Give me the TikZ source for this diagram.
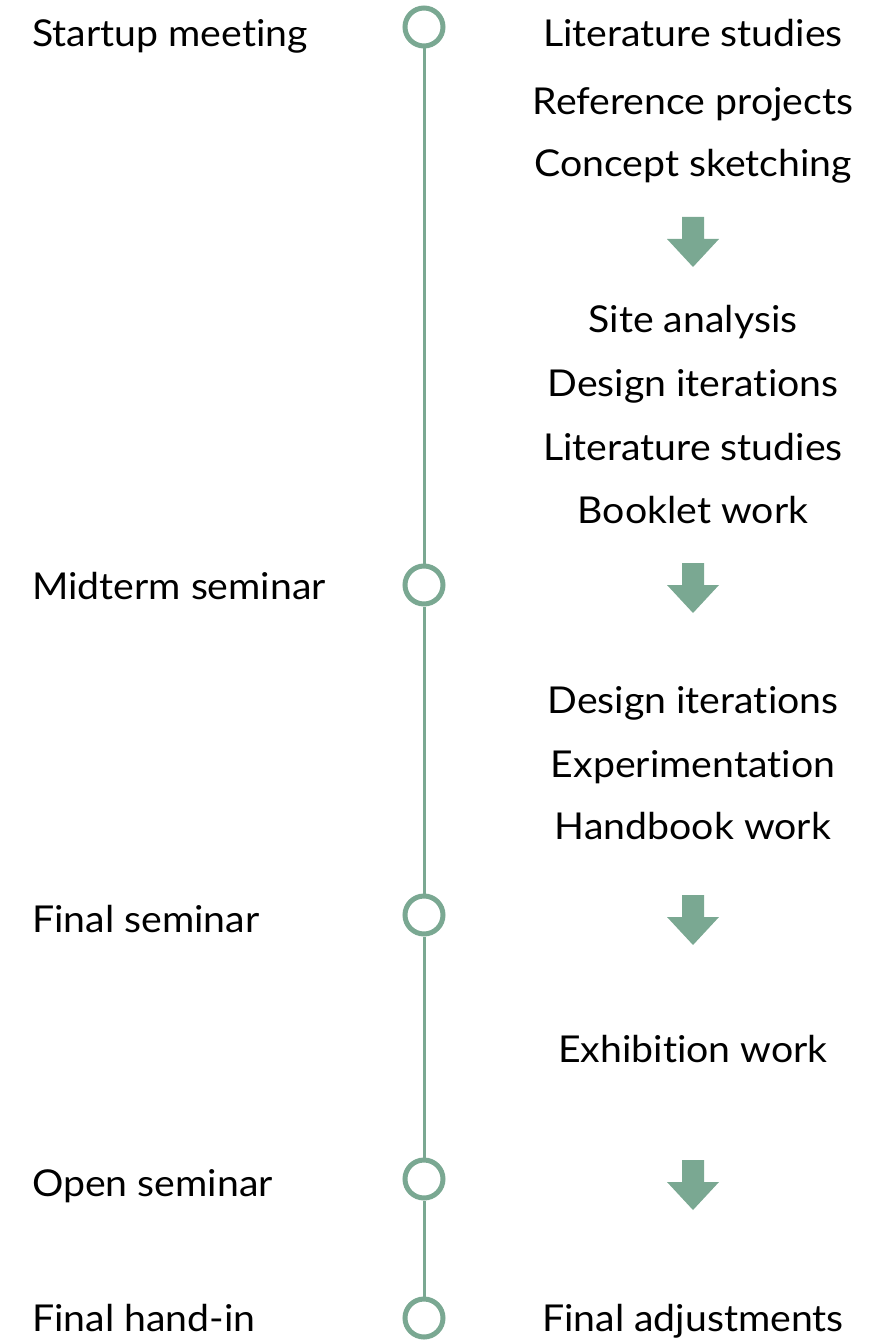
\documentclass[tikz,border=0pt]{standalone}
\usepackage{fontspec}
\setmainfont{Lato}[FakeStretch=1.06,Ligatures={NoCommon}]
\definecolor{sage}{RGB}{122,168,146}
\begin{document}
\begin{tikzpicture}[x=1pt,y=-1pt,
  lbl/.style={font=\fontsize{37}{44}\selectfont,inner sep=0pt,anchor=base west},
  act/.style={font=\fontsize{37}{44}\selectfont,inner sep=0pt,anchor=base},
  milestone/.style={circle,draw=sage,line width=5pt,fill=white,minimum size=38pt,inner sep=0pt},
  timeline/.style={sage,line width=3pt}]
\useasboundingbox (0,0) rectangle (868,1340);
% milestones
\node[milestone] (m1) at (424,27) {};
\node[milestone] (m2) at (424,585) {};
\node[milestone] (m3) at (424,915) {};
\node[milestone] (m4) at (424,1179) {};
\node[milestone] (m5) at (424,1318) {};
\draw[timeline] (m1.south) -- (m2.north);
\draw[timeline] (m2.south) -- (m3.north);
\draw[timeline] (m3.south) -- (m4.north);
\draw[timeline] (m4.south) -- (m5.north);
% left labels
\node[lbl] (l1) at (32,47) {Startup meeting};
\node[lbl] (l2) at (32,599) {Midterm seminar};
\node[lbl] (l3) at (32,932) {Final seminar};
\node[lbl] (l4) at (32,1196) {Open seminar};
\node[lbl] (l5) at (32,1331) {Final hand-in};
% right activities
\node[act] (a1) at (693,47) {Literature studies};
\node[act] (a2) at (693,115) {Reference projects};
\node[act] (a3) at (693,177) {Concept sketching};
\node[act] (a4) at (693,332) {Site analysis};
\node[act] (a5) at (693,396) {Design iterations};
\node[act] (a6) at (693,460) {Literature studies};
\node[act] (a7) at (693,523) {Booklet work};
\node[act] (a8) at (693,713) {Design iterations};
\node[act] (a9) at (693,777) {Experimentation};
\node[act] (a10) at (693,839) {Handbook work};
\node[act] (a11) at (693,1062) {Exhibition work};
\node[act] (a12) at (693,1331) {Final adjustments};
% arrows
\foreach \n/\y in {r1/217,r2/563,r3/895,r4/1160}{
  \coordinate (\n) at (693,\y);
  \fill[sage] (\n) ++(-11,0) -- ++(22,0) -- ++(0,22) -- ++(15,0) -- ++(-26,28) -- ++(-26,-28) -- ++(15,0) -- cycle;
}
\end{tikzpicture}
\end{document}
